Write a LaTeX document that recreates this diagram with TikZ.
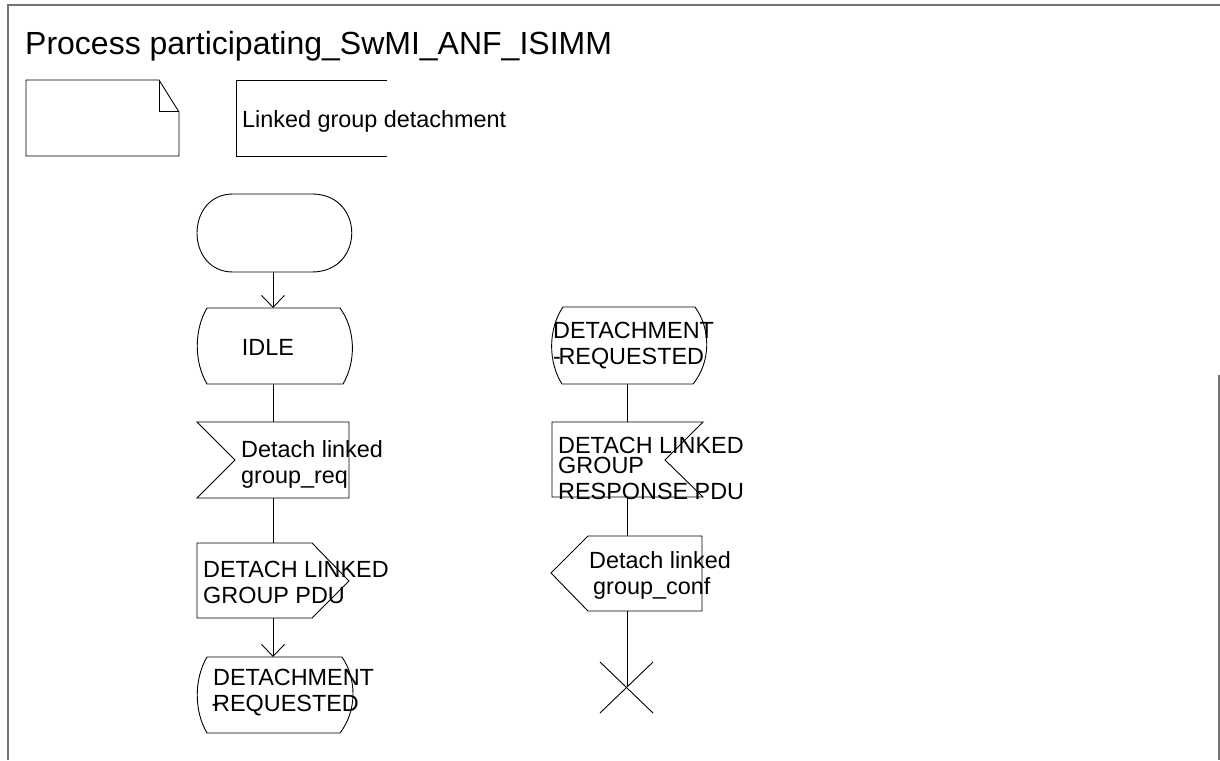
\documentclass[tikz,border=0pt]{standalone}
\usepackage{fontspec}
\setmainfont{Liberation Sans}
\usetikzlibrary{arrows.meta}
\begin{document}
\begin{tikzpicture}[x=1pt,y=-1pt,
  shp/.style={draw=black, line width=0.9pt, line join=miter},
  flow/.style={draw=black, line width=0.9pt},
  arr/.style={flow, -{Straight Barb[length=12pt,width=23pt,line width=0.9pt]}},
  framel/.style={draw=black!55, line width=1.4pt},
  lbl/.style={inner sep=0pt, font=\fontsize{23.4}{26}\selectfont, align=left, anchor=north west},
  lblone/.style={inner sep=0pt, font=\fontsize{23.4}{26}\selectfont},
  ttl/.style={inner sep=0pt, font=\fontsize{32}{38}\selectfont, anchor=base west}]
\useasboundingbox (0,0) rectangle (1220,760);
\fill[white] (0,0) rectangle (1220,760);
% frame
\draw[framel] (8,760) -- (8,5) -- (1220,5);
\draw[framel] (1219,375) -- (1219,760);
\node[ttl] (title) at (25,55) {Process participating\_SwMI\_ANF\_ISIMM};
% text symbol (page with folded corner)
\draw[shp] (26,80) -- (159,80) -- (179,112) -- (179,156) -- (26,156) -- cycle;
\draw[shp] (159,80) -- (159,111) -- (179,111);
% procedure reference bracket
\draw[shp] (387,80) -- (236,80) -- (236,156) -- (387,156);
\node[lblone, anchor=base west] (proc) at (242,127) {Linked group detachment};
% ---------- left column ----------
% start
\draw[shp] (233,194) -- (312,194) .. controls (365,194) and (365,272) .. (312,272)
  -- (233,272) .. controls (185,272) and (185,194) .. (233,194) -- cycle;
\coordinate (start-s) at (273,272);
% IDLE state
\draw[shp] (207,308) -- (340,308) .. controls (356,330) and (356,362) .. (343,384)
  -- (207,384) .. controls (194,362) and (194,330) .. (207,308) -- cycle;
\coordinate (idle-n) at (273,308);
\coordinate (idle-s) at (273,384);
\node[lblone, anchor=base] (idle) at (268,355.4) {IDLE};
% input Detach linked group_req
\draw[shp] (197,422) -- (349,422) -- (349,498) -- (197,498) -- (235,460) -- cycle;
\coordinate (inL-n) at (273,422);
\coordinate (inL-s) at (273,498);
\node[lbl] (inLt) at (241,440.6) {Detach linked\\group\_req};
% output DETACH LINKED GROUP PDU
\draw[shp] (197,543) -- (312,543) -- (349,581) -- (312,618) -- (197,618) -- cycle;
\coordinate (outL-n) at (273,543);
\coordinate (outL-s) at (273,618);
\node[lbl] (outLt) at (203,560.6) {DETACH LINKED\\GROUP PDU};
% state DETACHMENT REQUESTED
\draw[shp] (207,657) -- (342,657) .. controls (357,679) and (357,711) .. (340,733)
  -- (207,733) .. controls (194,711) and (194,679) .. (207,657) -- cycle;
\coordinate (stL-n) at (273,657);
\node[lbl] (stLt) at (213,668.6) {DETACHMENT\\\rlap{\hspace{-1.5pt}-}REQUESTED};
% ---------- right column ----------
% state DETACHMENT REQUESTED
\draw[shp] (563,307) -- (695,307) .. controls (711,329) and (711,362) .. (693,384)
  -- (562,384) .. controls (548,362) and (548,329) .. (563,307) -- cycle;
\coordinate (stR-s) at (627,384);
\node[lbl] (stRt) at (553,321.6) {DETACHMENT\\-\kern-2.5pt REQUESTED};
% input DETACH LINKED GROUP RESPONSE PDU (mirrored)
\draw[shp] (552,422) -- (703,422) -- (665,460) -- (703,497) -- (552,497) -- cycle;
\coordinate (inR-n) at (627,422);
\coordinate (inR-s) at (627,497);
\node[lbl] (inRt) at (558,436.6) {DETACH LINKED\\[-6pt]GROUP\\RESPONSE PDU};
% output Detach linked group_conf (pointing left)
\draw[shp] (588,536) -- (702,536) -- (702,611) -- (588,611) -- (551,573) -- cycle;
\coordinate (outR-n) at (627,536);
\coordinate (outR-s) at (627,611);
\node[lbl] (outRt) at (589,551.6) {Detach linked\\\hspace{4pt}group\_conf};
% stop
\coordinate (stop) at (627,687);
\draw[shp] (600,662) -- (653,713);
\draw[shp] (653,662) -- (600,713);
% ---------- connectors ----------
\draw[arr] (start-s) -- (idle-n);
\draw[flow] (idle-s) -- (inL-n);
\draw[flow] (inL-s) -- (outL-n);
\draw[arr] (outL-s) -- (stL-n);
\draw[flow] (stR-s) -- (inR-n);
\draw[flow] (inR-s) -- (outR-n);
\draw[flow] (outR-s) -- (stop);
\end{tikzpicture}
\end{document}
